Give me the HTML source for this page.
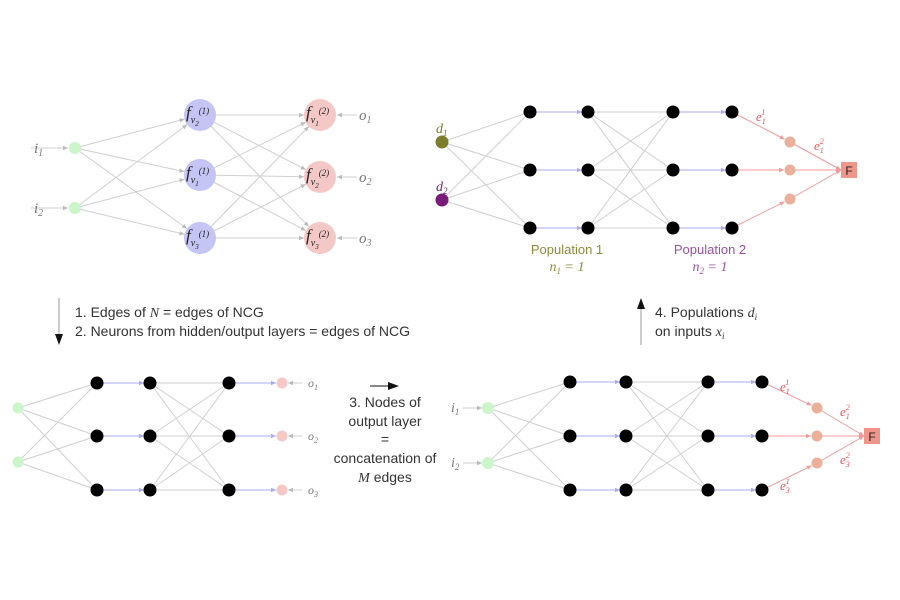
<!DOCTYPE html>
<html><head><meta charset="utf-8"><style>
body{margin:0;background:#fff;width:900px;height:600px;overflow:hidden}
svg{display:block}
text{font-family:"Liberation Sans",sans-serif}
.m{font-family:"Liberation Serif",serif;font-style:italic}
.g{fill:#777}
</style></head><body>
<svg id="s" width="900" height="600" viewBox="0 0 900 600">
<defs>
<marker id="ag" markerWidth="6" markerHeight="6" refX="5" refY="3" orient="auto"><path d="M0,0.8L5,3L0,5.2z" fill="#bbb"/></marker>
<marker id="ab" markerWidth="6" markerHeight="6" refX="5" refY="3" orient="auto"><path d="M0,0.8L5,3L0,5.2z" fill="#a9a9f0"/></marker>
<marker id="ar" markerWidth="6" markerHeight="6" refX="5" refY="3" orient="auto"><path d="M0,0.8L5,3L0,5.2z" fill="#f59a9a"/></marker>
</defs>
<g id="lines"></g>
<g id="nodes"></g>
<g class="g" font-size="15">
<text class="m" x="34" y="153">i<tspan font-size="10" dy="3">1</tspan></text>
<text class="m" x="34" y="213">i<tspan font-size="10" dy="3">2</tspan></text>
<text class="m" x="359" y="120">o<tspan font-size="10" dy="3">1</tspan></text>
<text class="m" x="359" y="182">o<tspan font-size="10" dy="3">2</tspan></text>
<text class="m" x="359" y="243">o<tspan font-size="10" dy="3">3</tspan></text>
</g>
<g font-size="17" fill="#222">
<text class="m" x="186" y="118">f<tspan font-size="10" dy="5">v</tspan><tspan font-size="7" dy="3">2</tspan><tspan font-size="9" dy="-12">(1)</tspan></text>
<text class="m" x="186" y="178">f<tspan font-size="10" dy="5">v</tspan><tspan font-size="7" dy="3">1</tspan><tspan font-size="9" dy="-12">(1)</tspan></text>
<text class="m" x="186" y="241">f<tspan font-size="10" dy="5">v</tspan><tspan font-size="7" dy="3">3</tspan><tspan font-size="9" dy="-12">(1)</tspan></text>
<text class="m" x="306" y="118">f<tspan font-size="10" dy="5">v</tspan><tspan font-size="7" dy="3">1</tspan><tspan font-size="9" dy="-12">(2)</tspan></text>
<text class="m" x="306" y="180">f<tspan font-size="10" dy="5">v</tspan><tspan font-size="7" dy="3">2</tspan><tspan font-size="9" dy="-12">(2)</tspan></text>
<text class="m" x="306" y="241">f<tspan font-size="10" dy="5">v</tspan><tspan font-size="7" dy="3">3</tspan><tspan font-size="9" dy="-12">(2)</tspan></text>
</g>
<text class="m" x="436" y="133" font-size="14" fill="#7a7a2a">d<tspan font-size="9" dy="3">1</tspan></text>
<text class="m" x="436" y="191" font-size="14" fill="#7a1f7a">d<tspan font-size="9" dy="3">2</tspan></text>
<text x="567" y="254" font-size="13" text-anchor="middle" fill="#8b8b3a">Population 1</text>
<text class="m" x="567" y="271" font-size="14" text-anchor="middle" fill="#8b8b3a">n<tspan font-size="9" dy="3">1</tspan><tspan dy="-3"> = 1</tspan></text>
<text x="710" y="254" font-size="13" text-anchor="middle" fill="#9b4fa8">Population 2</text>
<text class="m" x="710" y="271" font-size="14" text-anchor="middle" fill="#9b4fa8">n<tspan font-size="9" dy="3">2</tspan><tspan dy="-3"> = 1</tspan></text>
<g fill="#f05050" font-size="13">
<text class="m" x="756" y="121">e<tspan font-size="8" dy="3">1</tspan><tspan font-size="8" dx="-4" dy="-9">1</tspan></text>
<text class="m" x="814" y="150">e<tspan font-size="8" dy="3">1</tspan><tspan font-size="8" dx="-4" dy="-9">2</tspan></text>
<text class="m" x="780" y="391">e<tspan font-size="8" dy="3">1</tspan><tspan font-size="8" dx="-4" dy="-9">1</tspan></text>
<text class="m" x="840" y="416">e<tspan font-size="8" dy="3">1</tspan><tspan font-size="8" dx="-4" dy="-9">2</tspan></text>
<text class="m" x="840" y="464">e<tspan font-size="8" dy="3">3</tspan><tspan font-size="8" dx="-4" dy="-9">2</tspan></text>
<text class="m" x="780" y="490">e<tspan font-size="8" dy="3">3</tspan><tspan font-size="8" dx="-4" dy="-9">1</tspan></text>
</g>
<rect x="841" y="162" width="16" height="16" fill="#f0958a"/>
<text x="849" y="175" font-size="12" text-anchor="middle" fill="#222">F</text>
<rect x="864" y="428" width="16" height="16" fill="#f0958a"/>
<text x="872" y="441" font-size="12" text-anchor="middle" fill="#222">F</text>
<line x1="59" y1="298" x2="59" y2="335" stroke="#999" stroke-width="1"/>
<path d="M55,334L63,334L59,345z" fill="#111"/>
<text x="75" y="317" font-size="14" fill="#333">1. Edges of <tspan class="m">N</tspan> = edges of NCG</text>
<text x="75" y="336" font-size="14" fill="#333">2. Neurons from hidden/output layers = edges of NCG</text>
<line x1="370" y1="386" x2="390" y2="386" stroke="#111" stroke-width="1"/>
<path d="M388,382L399,386L388,390z" fill="#111"/>
<g font-size="14" fill="#333" text-anchor="middle">
<text x="385" y="407">3. Nodes of</text>
<text x="385" y="426">output layer</text>
<text x="385" y="444">=</text>
<text x="385" y="463">concatenation of</text>
<text x="385" y="482"><tspan class="m">M</tspan> edges</text>
</g>
<line x1="641" y1="345" x2="641" y2="308" stroke="#999" stroke-width="1"/>
<path d="M637,309L645,309L641,298z" fill="#111"/>
<text x="655" y="317" font-size="14" fill="#333">4. Populations <tspan class="m">d<tspan font-size="9" dy="3">i</tspan></tspan></text>
<text x="655" y="336" font-size="14" fill="#333">on inputs <tspan class="m">x<tspan font-size="9" dy="3">i</tspan></tspan></text>
<g class="g" font-size="14">
<text class="m" x="451" y="412">i<tspan font-size="9" dy="3">1</tspan></text>
<text class="m" x="451" y="467">i<tspan font-size="9" dy="3">2</tspan></text>
<text class="m" x="308" y="387" font-size="12">o<tspan font-size="8" dy="3">1</tspan></text>
<text class="m" x="308" y="440" font-size="12">o<tspan font-size="8" dy="3">2</tspan></text>
<text class="m" x="308" y="494" font-size="12">o<tspan font-size="8" dy="3">3</tspan></text>
</g>
</svg>
<script>
var L=document.getElementById('lines'),N=document.getElementById('nodes'),ns='http://www.w3.org/2000/svg';
function ln(x1,y1,x2,y2,c,r2,mk){var dx=x2-x1,dy=y2-y1,d=Math.hypot(dx,dy);var e=document.createElementNS(ns,'line');
e.setAttribute('x1',x1);e.setAttribute('y1',y1);e.setAttribute('x2',x2-dx/d*r2);e.setAttribute('y2',y2-dy/d*r2);
e.setAttribute('stroke',c);e.setAttribute('stroke-width',1);if(mk)e.setAttribute('marker-end','url(#'+mk+')');L.appendChild(e);}
function c(x,y,r,f){var e=document.createElementNS(ns,'circle');e.setAttribute('cx',x);e.setAttribute('cy',y);e.setAttribute('r',r);e.setAttribute('fill',f);N.appendChild(e);}
var G='#cfcfcf',B='#a9a9f0',R='#f59a9a';
function all(A,Bs,r,mk){A.forEach(a=>Bs.forEach(b=>ln(a[0],a[1],b[0],b[1],G,r,mk)));}
var I=[[75,148],[75,208]],H=[[200,115],[200,175],[200,238]],O=[[320,115],[320,177],[320,238]];
all(I,H,16,'ag');all(H,O,16,'ag');
I.forEach(p=>ln(p[0]-44,p[1],p[0],p[1],G,7,'ag'));
O.forEach(p=>ln(p[0]+37,p[1],p[0],p[1],G,17,'ag'));
I.forEach(p=>c(p[0],p[1],6,'#ccf5cc'));H.forEach(p=>c(p[0],p[1],16,'#c4c4f5'));O.forEach(p=>c(p[0],p[1],16,'#f5c8c8'));
function net(inp,xs,ys){
 var col=xs.map(x=>ys.map(y=>[x,y]));
 all(inp,col[0],0);
 for(var i=0;i<3;i++){ln(xs[0],ys[i],xs[1],ys[i],B,6,'ab');ln(xs[2],ys[i],xs[3],ys[i],B,6,'ab');}
 all(col[1],col[2],0);
 return col;}
var D=[[442,142],[442,200]],ys=[112,170,228];
var col=net(D,[530,588,673,732],ys);
var P=[[790,142],[790,170],[790,199]];
for(var i=0;i<3;i++){ln(732,ys[i],P[i][0],P[i][1],R,6,'ar');ln(P[i][0],P[i][1],841,170,R,0,'ar');}
c(442,142,6.5,'#7d7d2e');c(442,200,6.5,'#7a1a7a');
col.forEach(cc=>cc.forEach(p=>c(p[0],p[1],6.5,'#000')));P.forEach(p=>c(p[0],p[1],5.5,'#ebb09c'));
var I2=[[18,408],[18,462]],ys2=[383,436,490];
var colb=[97,150,229].map(x=>ys2.map(y=>[x,y]));
all(I2,colb[0],0);
for(var i=0;i<3;i++){ln(97,ys2[i],150,ys2[i],B,6,'ab');ln(229,ys2[i],282,ys2[i],B,6,'ab');ln(302,ys2[i],282,ys2[i],G,6,'ag');}
all(colb[1],colb[2],0);
I2.forEach(p=>c(p[0],p[1],5.5,'#ccf5cc'));colb.forEach(cc=>cc.forEach(p=>c(p[0],p[1],6.5,'#000')));
ys2.forEach(y=>c(282,y,5.5,'#f5c8c8'));
var I3=[[488,408],[488,463]],ys3=[382,436,490];
I3.forEach(p=>ln(p[0]-25,p[1],p[0],p[1],G,6,'ag'));
var col3=net(I3,[570,626,708,762],ys3);
var P3=[[817,408],[817,436],[817,463]];
for(var i=0;i<3;i++){ln(762,ys3[i],P3[i][0],P3[i][1],R,6,'ar');ln(P3[i][0],P3[i][1],864,436,R,0,'ar');}
I3.forEach(p=>c(p[0],p[1],6,'#ccf5cc'));col3.forEach(cc=>cc.forEach(p=>c(p[0],p[1],6.5,'#000')));P3.forEach(p=>c(p[0],p[1],5.5,'#ebb09c'));
</script>
</body></html>
